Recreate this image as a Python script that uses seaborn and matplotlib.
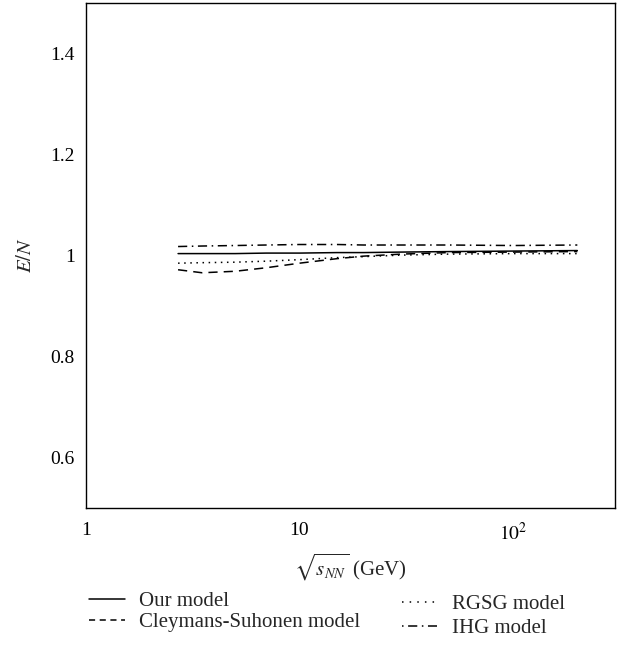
import numpy as np
import pandas as pd
import matplotlib
matplotlib.use("Agg")
import matplotlib.pyplot as plt
import matplotlib.ticker as mticker
from matplotlib.lines import Line2D
import seaborn as sns

# Data
energy = [2.7, 3.5, 5.0, 7.0, 10.0, 15.0, 20.0, 30.0, 50.0, 100.0, 200.0]
our_model = [1.004, 1.004, 1.004, 1.005, 1.005, 1.006, 1.006, 1.007, 1.008, 1.009, 1.010]
cleymans = [0.972, 0.966, 0.969, 0.976, 0.985, 0.994, 0.999, 1.003, 1.006, 1.007, 1.008]
rgsg = [0.985, 0.986, 0.987, 0.989, 0.992, 0.996, 0.998, 1.001, 1.003, 1.004, 1.004]
ihg = [1.018, 1.019, 1.020, 1.021, 1.022, 1.022, 1.021, 1.021, 1.021, 1.020, 1.021]

labels = ["Our model", "Cleymans-Suhonen model", "RGSG model", "IHG model"]
series = [our_model, cleymans, rgsg, ihg]

df = pd.concat(
    [pd.DataFrame({"energy": energy, "EN": s, "model": lab}) for lab, s in zip(labels, series)],
    ignore_index=True,
)

sns.set_style("white")
plt.rcParams["font.family"] = ["Liberation Serif", "DejaVu Serif"]
plt.rcParams["mathtext.fontset"] = "stix"

fig = plt.figure(figsize=(6.32, 6.45), dpi=100)
ax = fig.add_axes([0.136, 0.2124, 0.837, 0.7826])

dash_styles = {
    "Our model": "",
    "Cleymans-Suhonen model": (6, 4),
    "RGSG model": (1, 3),
    "IHG model": (6, 3, 1, 3),
}
sns.lineplot(data=df, x="energy", y="EN", hue="model", style="model",
             palette={l: "black" for l in labels}, dashes=dash_styles,
             linewidth=1.1, legend=False, ax=ax)

ax.set_xscale("log")
ax.set_xlim(1, 300)
ax.set_ylim(0.5, 1.5)
ax.xaxis.set_major_locator(mticker.FixedLocator([1, 10, 100]))
ax.xaxis.set_major_formatter(mticker.FixedFormatter(["1", "10", r"$10^2$"]))
ax.xaxis.set_minor_locator(mticker.LogLocator(base=10, subs=np.arange(2, 10)))
ax.xaxis.set_minor_formatter(mticker.NullFormatter())
ax.yaxis.set_major_locator(mticker.FixedLocator([0.6, 0.8, 1.0, 1.2, 1.4]))
ax.yaxis.set_major_formatter(mticker.FixedFormatter(["0.6", "0.8", "1", "1.2", "1.4"]))
ax.yaxis.set_minor_locator(mticker.FixedLocator([0.7, 0.9, 1.1, 1.3]))

ax.tick_params(which="both", direction="in", colors="black", labelsize=14)
ax.tick_params(which="major", length=5, width=1.0)
ax.tick_params(which="minor", length=3, width=0.8)
ax.tick_params(axis="x", pad=10)
ax.tick_params(axis="y", pad=8)
for sp in ax.spines.values():
    sp.set_color("black")
    sp.set_linewidth(1.0)

ax.set_xlabel(r"$\sqrt{s_{NN}}$ (GeV)", fontsize=15, labelpad=6)
ax.set_ylabel(r"$E/N$", fontsize=15, labelpad=10)

h = [Line2D([], [], color="black", lw=1.1, linestyle="-"),
     Line2D([], [], color="black", lw=1.1, dashes=(4, 3)),
     Line2D([], [], color="black", lw=1.1, dashes=(1, 4)),
     Line2D([], [], color="black", lw=1.1, dashes=(1, 3, 6, 3))]
common = dict(loc="upper left", frameon=False, fontsize=15, handlelength=1.7,
              handletextpad=0.7, borderpad=0, borderaxespad=0)
leg1 = fig.legend(h[:2], labels[:2], bbox_to_anchor=(0.141, 0.083),
                  labelspacing=0.08, **common)
leg2 = fig.legend(h[2:], labels[2:], bbox_to_anchor=(0.636, 0.078),
                  labelspacing=0.2, **common)

fig.savefig("out.png", dpi=100)
